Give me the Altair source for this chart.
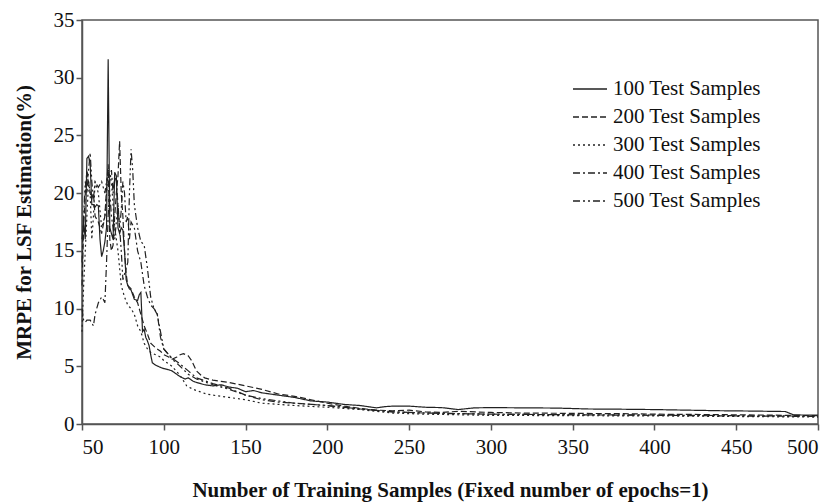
import altair as alt
import pandas as pd

series_names = ["100 Test Samples", "200 Test Samples", "300 Test Samples",
                "400 Test Samples", "500 Test Samples"]

x100 = [50,51,52,53,54,55,56,57,58,59,60,61,62,63,64,65,66,67,68,69,70,71,72,73,74,75,76,77,78,79,80,82,84,85,86,87,88,89,90,91,92,93,95,98,100,103,105,108,110,113,115,118,120,125,130,135,140,145,150,155,160,165,170,180,190,200,210,220,230,235,240,250,260,270,280,290,300,320,340,360,380,400,420,440,460,480,485,490,500]
y100 = [16,17.5,16,23,23.2,22.5,19,19,18.8,19,18.9,16,14.5,15,15.8,17,31.6,17,16.5,16,21.8,21.5,17,16.5,17,16.8,15,12.5,12,11.7,11.6,10.8,10.7,11.2,11.4,8,8.2,7.5,7.2,6.8,6,5.3,5.1,4.9,4.8,4.7,4.6,4.3,4.1,3.9,4.0,3.7,3.6,3.4,3.3,3.4,3.2,3.1,2.8,2.9,2.7,2.6,2.5,2.3,2.0,1.9,1.7,1.6,1.4,1.5,1.55,1.55,1.45,1.42,1.25,1.4,1.42,1.4,1.38,1.3,1.28,1.25,1.2,1.15,1.12,1.08,0.8,0.78,0.78]

x200 = [50,51,52,53,54,55,56,57,58,60,62,64,65,66,67,68,69,70,71,72,73,74,75,76,77,78,80,82,84,86,88,90,92,95,98,100,103,105,108,110,112,115,117,120,123,125,130,135,140,150,160,170,180,190,200,210,220,230,240,250,260,270,280,300,320,350,380,400,450,500]
y200 = [12,17,20,22,21,20,19.5,20,18,17.5,16.5,18,20.5,22.5,16,15,15.5,18,20,21.5,24.5,20,18,15,13,12,11.7,11,10.5,9.5,8.5,7.8,7,6.6,6.3,6,5.8,5.6,5.8,6,6.1,5.9,5.5,4.6,4.2,4,3.8,3.7,3.6,3.3,3.0,2.6,2.4,2.1,1.8,1.55,1.35,1.2,1.15,1.2,1.05,1.0,1.1,1.0,0.95,0.92,0.9,0.85,0.8,0.72]

x300 = [50,51,52,53,54,55,56,57,58,60,62,64,66,68,70,72,74,76,78,80,82,84,86,88,90,92,95,98,100,105,110,114,118,122,126,130,140,150,160,170,180,200,220,240,260,280,300,350,400,450,500]
y300 = [8,12,15,18,21,20,16,18,21,20,17,18,22,21,17,15,12,11,10.3,10,9.5,8.5,8,7,6.5,6.2,6,5.8,5.5,5,4.2,3.3,3.0,2.8,2.6,2.5,2.3,2.1,1.8,1.7,1.6,1.45,1.25,0.95,0.85,0.8,0.75,0.72,0.7,0.65,0.6]

x400 = [50,51,52,53,55,57,58,60,62,63,64,65,66,67,68,69,70,71,72,73,74,75,76,77,78,79,80,82,84,86,88,90,92,94,96,98,100,103,106,110,115,120,130,140,150,160,170,180,200,220,240,260,280,300,350,400,450,500]
y400 = [10,9,8.8,9,9,8.5,9.5,10.5,11,10.8,10.5,14,18,21,22,20,21.5,21,19,17,18.5,21,20,17.5,18,16,17.5,17,15,14,12,11,10.3,10,9.6,7.5,6.5,6,5.6,5.2,4.6,4,3.5,3.1,2.5,2.1,1.9,1.8,1.6,1.3,1.05,0.95,0.9,0.85,0.8,0.75,0.7,0.65]

x500 = [50,51,52,53,54,55,56,57,58,60,62,64,66,68,70,72,74,75,76,78,79,80,81,82,84,86,88,90,92,94,96,98,100,103,106,110,115,120,130,140,150,160,170,180,200,220,240,260,280,300,350,400,450,500]
y500 = [14,18,21,20,22,23.5,21,19.5,21,20.5,21,20,22,18,16,19,15,12.5,13,14,20,23.8,22,19,17,15.8,15.5,13.5,11,10,9.5,8,6.5,6,5.5,5,4.3,3.9,3.4,3.0,2.5,2.2,2.0,1.8,1.6,1.3,1.05,0.95,0.9,0.85,0.8,0.78,0.72,0.68]

xs = [x100, x200, x300, x400, x500]
ys = [y100, y200, y300, y400, y500]

rows = []
for name, xv, yv in zip(series_names, xs, ys):
    for a, b in zip(xv, yv):
        rows.append({"series": name, "x": a, "y": b})
df = pd.DataFrame(rows)

dashes = [[1, 0], [6, 3], [2, 3], [7, 3, 2, 3], [7, 3, 2, 3, 2, 3]]
font = "Liberation Serif"

chart = alt.Chart(df).mark_line(strokeWidth=1.2, color="#222").encode(
    x=alt.X("x:Q", scale=alt.Scale(domain=[50, 500], nice=False),
            axis=alt.Axis(values=list(range(50, 501, 50)),
                          title="Number of Training Samples (Fixed number of epochs=1)",
                          titlePadding=22)),
    y=alt.Y("y:Q", scale=alt.Scale(domain=[0, 35], nice=False),
            axis=alt.Axis(values=list(range(0, 36, 5)),
                          title="MRPE for LSF Estimation(%)", titlePadding=19)),
    strokeDash=alt.StrokeDash("series:N",
                              scale=alt.Scale(domain=series_names, range=dashes),
                              legend=alt.Legend(title=None, orient="none",
                                                legendX=490, legendY=51,
                                                symbolType="stroke", symbolSize=1156,
                                                symbolStrokeWidth=1.3,
                                                symbolStrokeColor="#222",
                                                labelFontSize=21, labelFont=font,
                                                labelColor="#111", labelOffset=5,
                                                rowPadding=-3)),
    detail="series:N",
).properties(
    width=736, height=404,
    autosize=alt.AutoSizeParams(type="none"),
    padding={"left": 74, "top": 12, "right": 8, "bottom": 90},
).configure_view(
    stroke="#555", strokeWidth=1.5
).configure_axis(
    grid=False, domainColor="#555", domainWidth=1.5, tickColor="#555", tickWidth=1.5,
    tickSize=6, labelFont=font, labelFontSize=21, labelColor="#111", labelPadding=2,
    titleFont=font, titleFontSize=21, titleFontWeight="bold", titleColor="#111"
).configure_axisX(labelPadding=6)

chart.save("out.html", embed_options={"renderer": "svg", "actions": False})
